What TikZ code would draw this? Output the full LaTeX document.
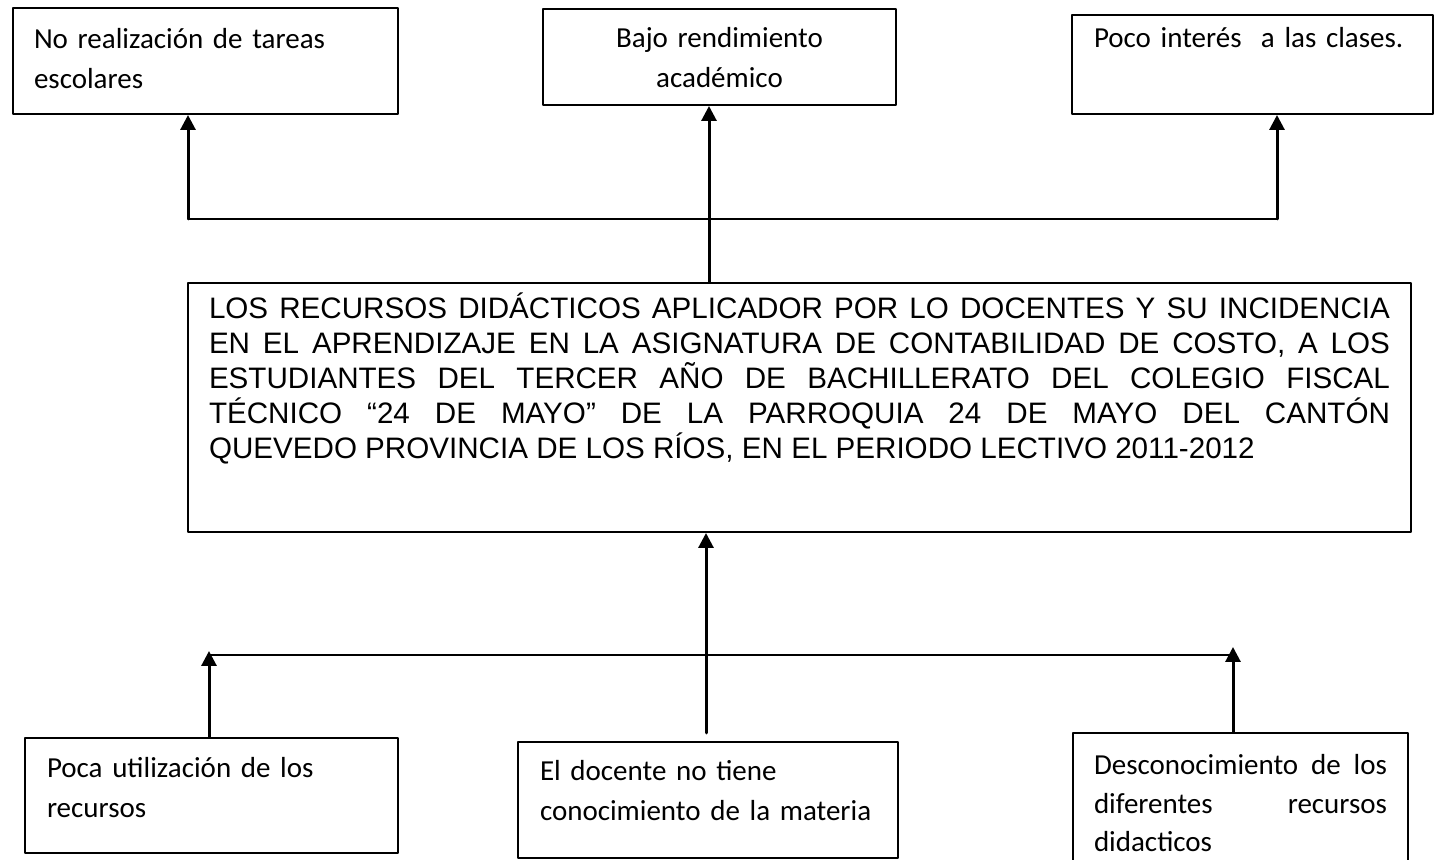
\documentclass[tikz,border=0pt]{standalone}
\usepackage{fontspec}
\setmainfont{Carlito}
\newfontfamily\arialfont{Liberation Sans}
\usetikzlibrary{arrows.meta}

\tikzset{
  caja/.style={draw, line width=1pt, anchor=north west, inner ysep=0pt, font=\fontsize{14.5}{20}\selectfont},
  flecha/.style={line width=1.5pt, -{Triangle[width=7.5pt, length=7.5pt]}},
  linea/.style={line width=1pt}
}

\begin{document}
\begin{tikzpicture}[x=0.5pt, y=-0.5pt, line cap=round, line join=round]
  % frame
  \useasboundingbox (0,0) rectangle (1437,860);
  \clip (0,0) rectangle (1437,860);
  % effects (top row)
  \node[caja, inner xsep=10.5pt, text width=171.5pt, text height=20.5pt, text depth=32.5pt, align=left] (efA) at (12,7) {No realización de tareas\\escolares};
  \node[caja, inner xsep=10pt, text width=156.5pt, text height=19.5pt, text depth=28.5pt, align=center] (efB) at (542,8) {Bajo rendimiento\\académico};
  \node[caja, inner xsep=11pt, text width=158.5pt, text height=16.5pt, text depth=33pt, align=left] (efC) at (1071,14) {Poco interés\ \ a las clases.};
  % problem
  \node[caja, inner xsep=10.5pt, text width=590.5pt, text height=18pt, text depth=106.5pt, align=justify, font=\arialfont\fontsize{14.8}{17.5}\selectfont] (problema) at (187,282)
    {LOS RECURSOS DIDÁCTICOS APLICADOR POR LO DOCENTES Y SU INCIDENCIA\linebreak
     EN EL APRENDIZAJE EN LA ASIGNATURA DE CONTABILIDAD DE COSTO, A LOS\linebreak
     ESTUDIANTES DEL TERCER AÑO DE BACHILLERATO DEL COLEGIO FISCAL\linebreak
     TÉCNICO “24 DE MAYO” DE LA PARROQUIA 24 DE MAYO DEL CANTÓN\linebreak
     QUEVEDO PROVINCIA DE LOS RÍOS, EN EL PERIODO LECTIVO 2011-2012};
  % causes (bottom row)
  \node[caja, inner xsep=11pt, text width=164.5pt, text height=20pt, text depth=37.5pt, align=left] (caA) at (24,737) {Poca utilización de los\\recursos};
  \node[caja, inner xsep=11pt, text width=168pt, text height=19.5pt, text depth=38.5pt, align=left] (caB) at (517,741) {El docente no tiene\\conocimiento de la materia};
  \node[caja, inner xsep=10.5pt, text width=146.5pt, text height=21pt, text depth=51.5pt, align=justify, font=\fontsize{14.5}{19.2}\selectfont] (caC) at (1072,732) {Desconocimiento de los\linebreak diferentes recursos\linebreak didacticos};
  % upper connectors
  \coordinate (nA) at (188,219);
  \coordinate (nB) at (709,219);
  \coordinate (nC) at (1277,219);
  \draw[linea] (nA) -- (nC);
  \draw[flecha] (nA) -- (nA |- efA.south);
  \draw[flecha] (nC) -- (nC |- efC.south);
  \draw[flecha] (nB |- problema.north) -- (nB |- efB.south);
  % lower connectors
  \coordinate (sA) at (209,655);
  \coordinate (sB) at (706,733);
  \coordinate (sC) at (1233,655);
  \draw[linea] (sA) -- (sC);
  \draw[flecha] (sA |- caA.north) -- ([yshift=2pt]sA);
  \draw[flecha] (sC |- caC.north) -- ([yshift=4pt]sC);
  \draw[flecha] (sB) -- (sB |- problema.south);
\end{tikzpicture}
\end{document}
